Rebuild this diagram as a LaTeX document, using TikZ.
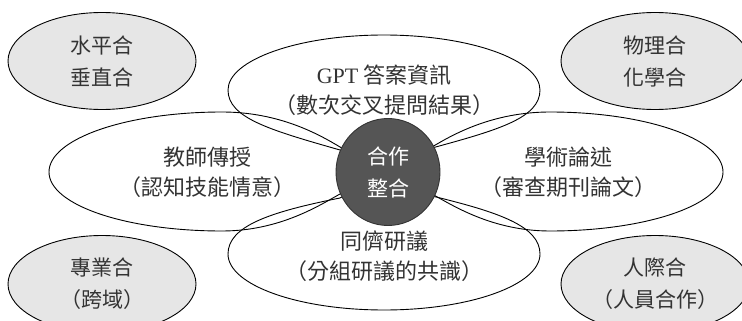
\documentclass[tikz,border=0pt]{standalone}
\usepackage{fontspec}
\usetikzlibrary{shapes.geometric}
\newfontfamily\cjk{Noto Sans CJK TC}
\newfontfamily\gptfont{Liberation Serif}
\definecolor{sidegray}{HTML}{E6E6E6}
\definecolor{hubgray}{HTML}{555555}
\definecolor{txt}{HTML}{333333}
\begin{document}
\begin{tikzpicture}[x=1pt,y=-1pt,
  petal/.style={draw=black,line width=0.9pt},
  label/.style={align=center,text=txt,inner sep=0pt,
    font=\cjk\fontsize{22}{30}\selectfont},
  sidebox/.style={ellipse,draw=black,fill=sidegray,line width=0.9pt,
    minimum width=188pt,minimum height=97pt,inner sep=0pt,align=center,
    text=txt,font=\cjk\fontsize{21}{32}\selectfont},
  hub/.style={ellipse,draw=black!80,fill=hubgray,line width=0.9pt,
    minimum width=104pt,minimum height=107pt,inner sep=0pt,align=center,
    text=white,font=\cjk\fontsize{21}{32}\selectfont}]
\useasboundingbox (0,0) rectangle (742,321);
\clip (0,0) rectangle (742,321);
% side ellipses
\node[sidebox] (tl) at (102,61) {水平合\\垂直合};
\node[sidebox] (tr) at (655,61) {物理合\\化學合};
\node[sidebox] (bl) at (102,284) {專業合\\（跨域）};
\node[sidebox] (br) at (655,284) {人際合\\（人員合作）};
% petals
\draw[petal] (388,171) -- (340,150) .. controls (270,130) and (228,118) .. (228,90)
  .. controls (228,60) and (298,35) .. (384,35)
  .. controls (470,35) and (540,60) .. (540,90)
  .. controls (540,118) and (498,130) .. (432,148) -- cycle;
\draw[petal] (388,171) -- (340,147) .. controls (320,135) and (280,112) .. (222,112)
  .. controls (126,112) and (49,139) .. (49,172)
  .. controls (49,205) and (126,231) .. (222,231)
  .. controls (280,231) and (320,205) .. (340,194) -- cycle;
\draw[petal] (388,171) -- (432,147) .. controls (452,135) and (492,112) .. (550,112)
  .. controls (646,112) and (723,139) .. (723,172)
  .. controls (723,205) and (646,231) .. (550,231)
  .. controls (492,231) and (452,205) .. (432,194) -- cycle;
\draw[petal] (388,171) -- (340,198) .. controls (270,212) and (228,226) .. (228,254)
  .. controls (228,285) and (298,310) .. (384,310)
  .. controls (470,310) and (540,285) .. (540,254)
  .. controls (540,226) and (498,212) .. (432,196) -- cycle;
% petal texts
\node[label] (gpt) at (384,90) {{\gptfont GPT} 答案資訊\\（數次交叉提問結果）};
\node[label] (teach) at (207,172) {教師傳授\\（認知技能情意）};
\node[label] (acad) at (568,172) {學術論述\\（審查期刊論文）};
\node[label] (peer) at (384,256) {同儕研議\\（分組研議的共識）};
% hub
\node[hub] (center) at (388,172) {合作\\整合};
\end{tikzpicture}
\end{document}
